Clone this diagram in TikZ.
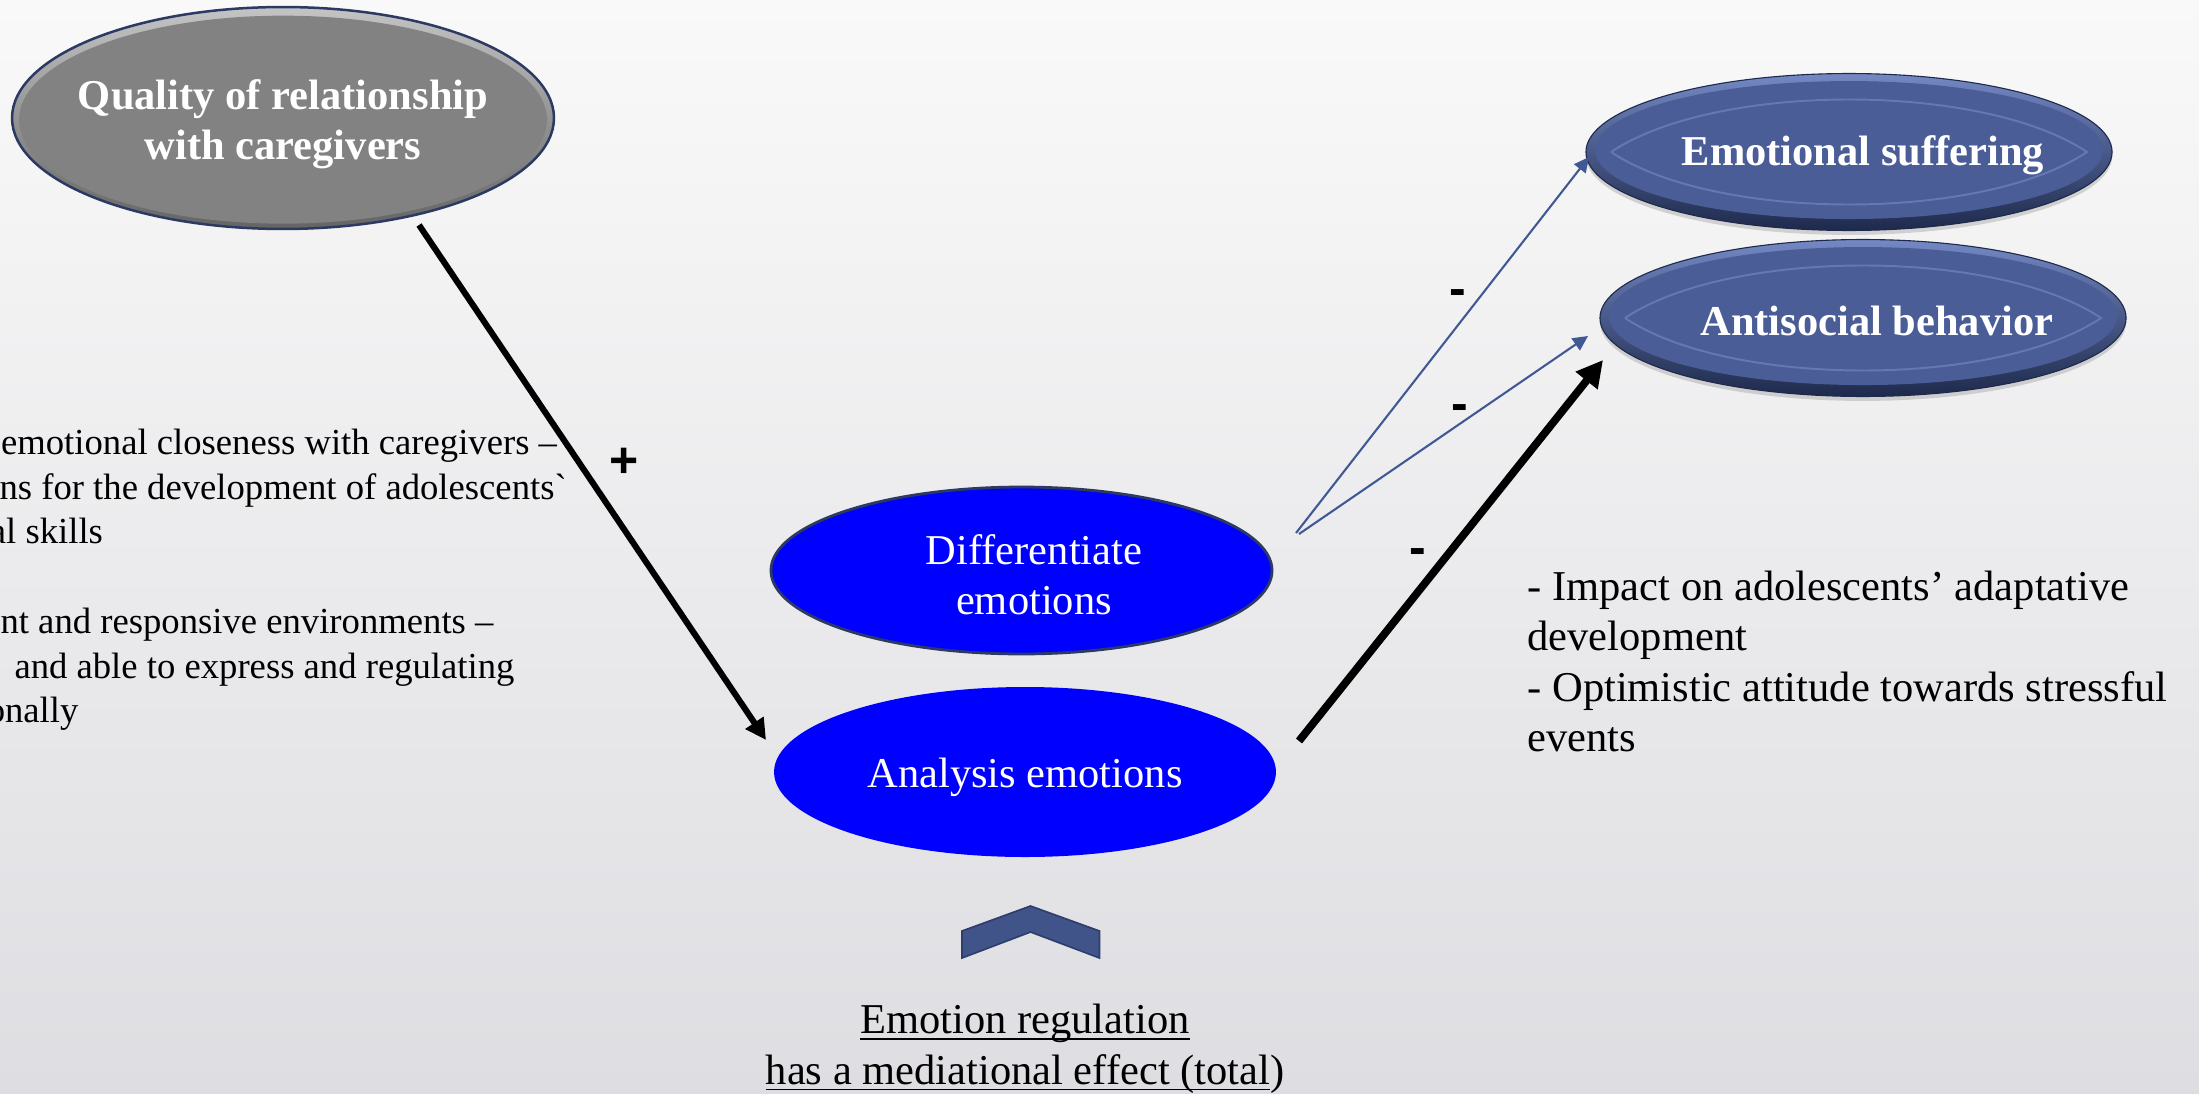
\documentclass[tikz,border=0pt]{standalone}
\usepackage{fontspec}
\setmainfont{Liberation Serif}
\newfontfamily\signfont{Liberation Sans}
\usetikzlibrary{shapes.geometric,arrows.meta,shadows,calc}

\definecolor{bgtop}{RGB}{249,249,249}
\definecolor{bgbot}{RGB}{222,222,226}
\definecolor{navyedge}{RGB}{44,58,99}
\definecolor{ovalblue}{RGB}{74,93,150}
\definecolor{ovallight}{RGB}{116,136,196}
\definecolor{ovaldark}{RGB}{30,42,76}
\definecolor{lensline}{RGB}{100,120,180}
\definecolor{pureblue}{RGB}{0,0,255}
\definecolor{linkblue}{RGB}{64,88,148}
\definecolor{chevfill}{RGB}{64,84,138}
\definecolor{chevedge}{RGB}{46,62,108}
\definecolor{greyfill}{RGB}{130,130,130}
\definecolor{greyrimtop}{RGB}{196,196,196}
\definecolor{greyrimbot}{RGB}{100,100,100}

\newcommand\txtmain{\fontsize{15.3pt}{18.2pt}\selectfont}
\newcommand\txtside{\fontsize{13.2pt}{16pt}\selectfont}
% underline at a fixed depth below the baseline
\newsavebox\ulinebox
\newcommand\ulinetext[1]{\sbox\ulinebox{#1}%
  \rlap{\rule[-2.2pt]{\wd\ulinebox}{0.55pt}}\usebox\ulinebox}

\begin{document}
\begin{tikzpicture}[x=0.36pt,y=-0.36pt,
  greyoval/.style={ellipse, minimum width=195.1pt, minimum height=79.9pt,
    inner xsep=-10pt, inner ysep=0pt, outer sep=0pt, draw=navyedge, line width=0.9pt,
    top color=greyrimtop, bottom color=greyrimbot,
    path picture={\fill[greyfill] ([yshift=-0.6pt]path picture bounding box.center)
      ellipse [x radius=264, y radius=104];},
    text=white, font=\bfseries\txtmain, align=center,
    text height=31pt, text depth=0.8pt},
  blueoval/.style={ellipse, minimum width=189.4pt, minimum height=56.5pt,
    inner xsep=-8pt, inner ysep=0pt, outer sep=0pt, draw=ovaldark, line width=0.4pt,
    top color=ovallight, bottom color=ovaldark,
    drop shadow={shadow xshift=0pt, shadow yshift=-1.6pt, opacity=0.3},
    path picture={
      \fill[ovalblue] ([yshift=0.7pt]path picture bounding box.center)
        ellipse [x radius=254, y radius=69];
      \coordinate (lc) at (path picture bounding box.center);
      \draw[lensline, line width=0.7pt] ($(lc)+(-238,0)$)
        .. controls +(105,-70) and +(-105,-70) .. ++(476,0)
        .. controls +(-105,70) and +(105,70) .. ++(-476,0);},
    text=white, font=\bfseries\txtmain,
    execute at begin node={\hspace*{10pt}}},
  diffoval/.style={ellipse, minimum width=180.4pt, minimum height=60.1pt,
    inner xsep=-6pt, inner ysep=0pt, outer sep=0pt, fill=pureblue, draw=navyedge, line width=1pt,
    text=white, font=\txtmain, align=center,
    text height=32pt, text depth=0pt},
  anaoval/.style={ellipse, minimum width=180.7pt, minimum height=61.2pt,
    inner sep=0pt, outer sep=0pt, fill=pureblue,
    text=white, font=\txtmain, text height=10.8pt, text depth=0pt},
  thickarrow/.style={line width=2.2pt, -{Triangle[length=7.5pt,width=7.5pt]}},
  heavyarrow/.style={line width=2.8pt, -{Triangle[length=9.5pt,width=9.6pt]}},
  linkarrow/.style={draw=linkblue, line width=0.75pt,
    -{Triangle[length=5.4pt,width=5.2pt]}},
  signlabel/.style={font=\signfont\bfseries\fontsize{18pt}{20pt}\selectfont,
    inner sep=0pt},
  sideline/.style={font=\txtside, inner sep=0pt},
  bodytext/.style={font=\txtmain, inner sep=0pt}
]
\useasboundingbox (0,0) rectangle (2199,1093);
\clip (0,0) rectangle (2199,1093);
\shade[top color=bgtop, bottom color=bgbot] (0,0) rectangle (2199,1093);

% ovals
\node[greyoval] (qual) at (283,118) {Quality of relationship\\with caregivers};
\node[blueoval, text height=12pt, text depth=2.5pt] (emo) at (1849,152) {Emotional suffering};
\node[blueoval, text height=12.5pt, text depth=0pt] (anti) at (1863,318) {Antisocial behavior};
\node[diffoval] (diff) at (1021.5,570.5) {\hspace*{9pt}Differentiate\\\hspace*{9pt}emotions};
\node[anaoval] (ana) at (1025,772) {Analysis emotions};

% connectors
\draw[thickarrow] ([shift={(136,107)}]qual.center) -- ([shift={(-259,-32)}]ana.center);
\draw[heavyarrow] ([shift={(274,-31)}]ana.center) -- ([shift={(-260,42)}]anti.center);
\draw[linkarrow] ([shift={(274.5,-37.5)}]diff.center) -- ([shift={(-260,5)}]emo.center);
\draw[linkarrow] ([shift={(277.5,-36.5)}]diff.center) -- ([shift={(-275,18)}]anti.center);

% signs on the paths
\node[signlabel] (plus) at (624,463) {+};
\node[signlabel] (minusa) at (1458,298) {-};
\node[signlabel] (minusb) at (1460,413) {-};
\node[signlabel] (minusc) at (1418,557) {-};

% side notes on the left
\node[sideline, anchor=base west] (la) at (0.5,454) {emotional closeness with caregivers –};
\node[sideline, anchor=base west] (lb) at (-1,499) {ns for the development of adolescents\textasciigrave};
\node[sideline, anchor=base east] (lc) at (103.5,543) {al skills};
\node[sideline, anchor=base west] (ld) at (0,633) {nt and responsive environments –};
\node[sideline, anchor=base east] (le) at (515,678) {and able to express and regulating};
\node[sideline, anchor=base east] (lf) at (79,722) {onally};

% outcomes text (anchored at the baseline of its last line)
\node[bodytext, anchor=base west, align=left] (impact) at (1527,751.7)
  {- Impact on adolescents’ adaptative\\development\\- Optimistic attitude towards stressful\\events};

% chevron and mediation note
\filldraw[fill=chevfill, draw=chevedge, line width=0.6pt]
  (962,958) -- (962,931) -- (1030.5,906) -- (1099.5,931) -- (1099.5,958) -- (1030.5,932) -- cycle;
\node[bodytext, anchor=base, align=center] (medtext) at (1025,1084)
  {\ulinetext{Emotion regulation}\\\ulinetext{has a mediational effect (total})};
\end{tikzpicture}
\end{document}
